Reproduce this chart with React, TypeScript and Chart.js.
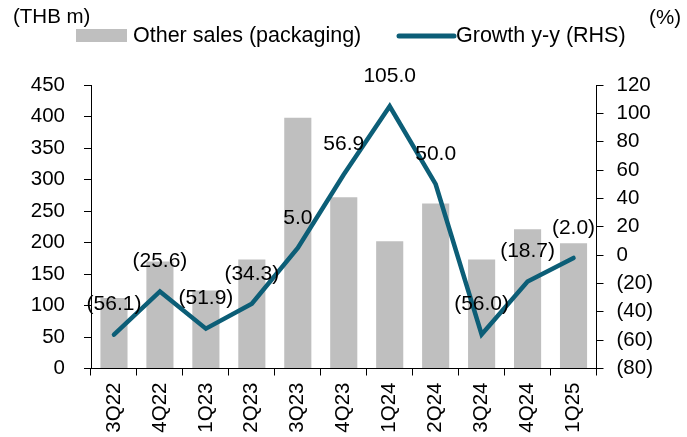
import React, { useEffect, useRef } from "react";
import { Chart, registerables } from "chart.js";

Chart.register(...registerables);

const categories = ["3Q22", "4Q22", "1Q23", "2Q23", "3Q23", "4Q23", "1Q24", "2Q24", "3Q24", "4Q24", "1Q25"];
const otherSales = [112, 170, 124, 173, 398, 272, 202, 262, 173, 221, 199];
const growthYY = [-56.1, -25.6, -51.9, -34.3, 5.0, 56.9, 105.0, 50.0, -56.0, -18.7, -2.0];

const leftAxis = { min: 0, max: 450, step: 50 };
const rightAxis = { min: -80, max: 120, step: 20 };

const barLabel = "Other sales (packaging)";
const lineLabel = "Growth y-y (RHS)";
const leftTitle = "(THB m)";
const rightTitle = "(%)";

const FONT = "'Liberation Sans', Arial, Helvetica, sans-serif";
const BAR_COLOR = "#BFBFBF";
const LINE_COLOR = "#0C5E77";

const fmt = (v: number, digits: number) =>
  v < 0 ? `(${Math.abs(v).toFixed(digits)})` : v.toFixed(digits);

const overlayPlugin = {
  id: "overlay",
  afterDatasetsDraw(chart: any) {
    const ctx = chart.ctx as CanvasRenderingContext2D;
    ctx.save();
    // data labels for line
    const meta = chart.getDatasetMeta(1);
    ctx.font = `21px ${FONT}`;
    ctx.fillStyle = "#000";
    ctx.textAlign = "center";
    ctx.textBaseline = "middle";
    meta.data.forEach((pt: any, i: number) => {
      ctx.fillText(fmt(growthYY[i], 1), pt.x, pt.y - 30);
    });
    // axis titles
    ctx.font = `20.5px ${FONT}`;
    ctx.textAlign = "left";
    ctx.fillText(leftTitle, 13, 17);
    ctx.textAlign = "right";
    ctx.fillText(rightTitle, 681, 18);
    // legend
    ctx.font = `21.5px ${FONT}`;
    ctx.fillStyle = BAR_COLOR;
    ctx.fillRect(76, 29, 51, 13);
    ctx.fillStyle = "#000";
    ctx.textAlign = "left";
    ctx.fillText(barLabel, 133, 36);
    ctx.strokeStyle = LINE_COLOR;
    ctx.lineWidth = 5;
    ctx.lineCap = "round";
    ctx.beginPath();
    ctx.moveTo(399, 36);
    ctx.lineTo(454, 36);
    ctx.stroke();
    ctx.fillText(lineLabel, 456, 36);
    ctx.restore();
  },
};

export default function App() {
  const ref = useRef<HTMLCanvasElement | null>(null);

  useEffect(() => {
    if (!ref.current) return;
    Chart.defaults.font.family = FONT;
    const chart = new Chart(ref.current, {
      type: "bar",
      data: {
        labels: categories,
        datasets: [
          {
            type: "bar",
            label: barLabel,
            data: otherSales,
            backgroundColor: BAR_COLOR,
            barPercentage: 0.59,
            categoryPercentage: 1,
            yAxisID: "y",
            order: 2,
          },
          {
            type: "line",
            label: lineLabel,
            data: growthYY,
            borderColor: LINE_COLOR,
            backgroundColor: LINE_COLOR,
            borderWidth: 4.5,
            pointRadius: 0,
            tension: 0,
            borderJoinStyle: "miter",
            borderCapStyle: "round",
            yAxisID: "y1",
            order: 1,
          } as any,
        ],
      },
      options: {
        responsive: false,
        animation: false,
        devicePixelRatio: 1,
        layout: { padding: { top: 85, left: 0, right: 0, bottom: 0 } },
        plugins: {
          legend: { display: false },
          tooltip: { enabled: false },
        },
        scales: {
          x: {
            offset: true,
            grid: {
              display: true,
              offset: true,
              drawOnChartArea: false,
              drawTicks: true,
              tickLength: 7,
              color: "#000",
            },
            border: { display: true, color: "#000", width: 1 },
            ticks: {
              color: "#000",
              font: { size: 20.5, family: FONT },
              minRotation: 90,
              maxRotation: 90,
              padding: 7,
              autoSkip: false,
            },
            afterFit: (s: any) => {
              s.height = 437 - 368.5;
            },
          },
          y: {
            position: "left",
            min: leftAxis.min,
            max: leftAxis.max,
            grid: {
              display: true,
              drawOnChartArea: false,
              drawTicks: true,
              tickLength: 7,
              color: "#000",
            },
            border: { display: true, color: "#000", width: 1 },
            ticks: {
              stepSize: leftAxis.step,
              color: "#000",
              font: { size: 20.5, family: FONT },
              padding: 19,
            },
            afterFit: (s: any) => {
              s.width = 91;
            },
          },
          y1: {
            position: "right",
            min: rightAxis.min,
            max: rightAxis.max,
            grid: {
              display: true,
              drawOnChartArea: false,
              drawTicks: true,
              tickLength: 7,
              color: "#000",
            },
            border: { display: true, color: "#000", width: 1 },
            ticks: {
              stepSize: rightAxis.step,
              color: "#000",
              font: { size: 20.5, family: FONT },
              padding: 13,
              callback: (v: any) => fmt(Number(v), 0),
            },
            afterFit: (s: any) => {
              s.width = 687 - 596.5;
            },
          },
        },
      },
      plugins: [overlayPlugin],
    });
    return () => chart.destroy();
  }, []);

  return (
    <div style={{ position: "fixed", left: 0, top: 0, width: 687, height: 437, background: "#fff" }}>
      <canvas ref={ref} width={687} height={437} style={{ display: "block" }} />
    </div>
  );
}
